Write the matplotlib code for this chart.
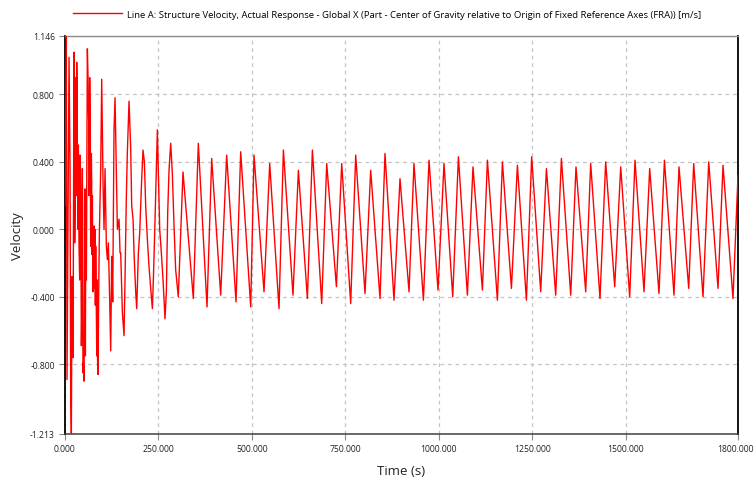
#!/usr/bin/env python3
import matplotlib

matplotlib.use("Agg")
import matplotlib.pyplot as plt
import matplotlib.transforms as mtransforms
import numpy as np

plt.rcParams["font.family"] = ["Open Sans", "DejaVu Sans"]

# early, irregular part of the response (time s, velocity m/s)
early_t = [
    0.0, 3.6, 5.4, 8.1, 10.8, 13.5, 15.2, 17.0, 18.8, 19.5, 20.3, 21.0, 21.5,
    24.2, 25.9, 27.7, 28.6, 29.5, 30.4, 31.3, 32.2, 33.1, 34.8, 35.7, 37.5,
    39.3, 40.2, 42.0, 43.8, 44.6, 45.2, 46.4, 47.3, 48.0, 49.1, 50.9, 51.8,
    52.5, 53.6, 54.5, 55.5, 57.1, 58.9, 59.8, 61.6, 63.4, 64.3, 65.5, 66.0,
    66.9, 67.8, 68.7, 69.6, 70.5, 71.4, 72.3, 73.2, 74.9, 76.0, 77.7, 79.0,
    80.3, 81.2, 82.1, 83.9, 85.0, 86.0, 87.2, 88.4, 90.0, 91.9, 95.5, 98.2,
    101.7, 104.4, 107.1, 110.6, 113.3, 116.0, 119.6, 122.2, 124.9, 127.6,
    131.1, 133.8, 137.4, 140.1, 144.5, 147.2, 149.0, 153.4, 157.9, 160.5,
    164.1, 166.8, 171.3, 175.7, 178.4, 182.0, 184.6, 189.1, 191.8, 196.2,
    199.8, 205.1, 208.7, 212.3, 215.8, 220.3, 224.7, 229.2, 233.7, 236.3,
    239.9, 244.3, 247.0, 249.7, 253.3, 257.7, 262.2, 267.5, 271.1, 274.7,
    278.2, 282.7, 287.1, 291.6, 296.0, 303.0,
]
early_v = [
    0.14, 1.146, -0.89, 0.08, 1.02, 0.36, -0.94, -1.213, -0.28, -0.70, -0.35,
    -0.72, -0.76, 1.05, -0.08, 0.25, 0.73, 0.90, 0.20, 0.99, 0.85, 0.44, 0.00,
    0.50, -0.10, -0.30, 0.44, 0.20, -0.69, -0.55, -0.20, 0.36, 0.10, -0.85,
    -0.79, -0.90, -0.50, -0.20, 0.24, -0.75, 0.00, -0.30, 0.60, 1.07, 0.90,
    0.63, 0.20, 0.30, 0.90, 0.69, 0.55, -0.10, 0.10, 0.45, 0.28, -0.15, 0.20,
    -0.37, -0.25, 0.02, -0.35, 0.00, -0.45, -0.10, -0.51, -0.75, -0.30, -0.80,
    -0.86, -0.40, -0.03, 0.36, 0.89, 0.28, 0.00, 0.36, -0.10, -0.18, -0.08,
    -0.43, -0.72, -0.16, -0.43, 0.59, 0.78, 0.34, 0.00, 0.06, -0.14, -0.14,
    -0.49, -0.63, -0.30, 0.20, 0.46, 0.76, 0.48, 0.14, 0.06, -0.14, -0.37,
    -0.47, -0.14, -0.02, 0.30, 0.47, 0.40, 0.14, -0.06, -0.22, -0.35, -0.47,
    -0.30, -0.02, 0.36, 0.59, 0.34, 0.00, -0.14, -0.30, -0.53, -0.37, 0.10,
    0.35, 0.51, 0.33, 0.02, -0.24, -0.40,
]

# steady oscillation: crests and troughs
peak_t = [
    315.6, 356.6, 392.3, 432.4, 469.9, 505.5, 547.5, 584.1, 624.2, 661.7,
    700.0, 740.1, 777.5, 817.6, 855.9, 896.0, 933.4, 973.6, 1013.7, 1052.2,
    1091.2, 1129.8, 1169.9, 1210.0, 1248.2, 1287.6, 1327.7, 1366.7, 1406.0,
    1446.1, 1486.3, 1524.5, 1563.8, 1603.2, 1642.2, 1681.5, 1721.7, 1759.9,
    1800.0,
]
peak_v = [
    0.34, 0.51, 0.42, 0.44, 0.46, 0.44, 0.39, 0.47, 0.35, 0.47, 0.39, 0.39,
    0.44, 0.35, 0.45, 0.30, 0.39, 0.41, 0.39, 0.43, 0.37, 0.41, 0.40, 0.38,
    0.43, 0.36, 0.42, 0.37, 0.39, 0.40, 0.37, 0.41, 0.36, 0.41, 0.37, 0.39,
    0.40, 0.38, 0.32,
]
trough_t = [
    343.2, 379.8, 416.4, 457.4, 496.7, 532.3, 572.4, 609.8, 648.3, 686.6,
    725.9, 764.1, 802.4, 842.5, 879.9, 920.1, 958.6, 997.6, 1037.0, 1076.2,
    1116.4, 1156.5, 1194.0, 1234.1, 1272.3, 1312.4, 1352.6, 1392.7, 1430.9,
    1470.2, 1510.3, 1548.6, 1588.7, 1628.8, 1668.2, 1706.4, 1746.5, 1786.6,
]
trough_v = [
    -0.41, -0.46, -0.39, -0.43, -0.46, -0.37, -0.47, -0.39, -0.41, -0.44,
    -0.34, -0.44, -0.38, -0.41, -0.42, -0.37, -0.42, -0.36, -0.40, -0.39,
    -0.36, -0.42, -0.35, -0.42, -0.37, -0.39, -0.39, -0.37, -0.41, -0.34,
    -0.40, -0.37, -0.38, -0.39, -0.35, -0.40, -0.35, -0.41,
]

y_ticks = [-1.213, -0.8, -0.4, 0.0, 0.4, 0.8, 1.146]
x_ticks = [0, 250, 500, 750, 1000, 1250, 1500, 1800]

LEGEND_LABEL = (
    "Line A: Structure Velocity, Actual Response - Global X (Part - Center of "
    "Gravity relative to Origin of Fixed Reference Axes (FRA)) [m/s]"
)


def main():
    t = np.array(early_t + peak_t + trough_t)
    v = np.array(early_v + peak_v + trough_v)
    order = np.argsort(t, kind="mergesort")
    t, v = t[order], v[order]

    fig = plt.figure(figsize=(7.55, 4.81), dpi=100)
    ax = fig.add_axes([65 / 755, 1 - 435 / 481, 673 / 755, 398 / 481])

    (line,) = ax.plot(t, v, color="#ff0000", linewidth=1.0, zorder=3)

    ax.set_xlim(0, 1800)
    ax.set_ylim(-1.213, 1.146)
    ax.set_xticks(x_ticks)
    ax.set_xticklabels([f"{x:.3f}" for x in x_ticks])
    ax.set_yticks(y_ticks)
    ax.set_yticklabels([f"{y:.3f}" for y in y_ticks])
    ax.tick_params(axis="both", direction="out", length=4.3, width=0.8,
                   color="#888888", labelsize=6.2, labelcolor="#222222", pad=3)
    ax.grid(True, color="#c4c4c4", linestyle=(0, (3, 3)), linewidth=0.9, zorder=0)

    # the last x label sits right at the figure edge; nudge it in a little
    last = ax.get_xticklabels()[-1]
    last.set_transform(last.get_transform()
                       + mtransforms.ScaledTranslation(-3 / 100, 0, fig.dpi_scale_trans))

    for side in ("left", "right"):
        ax.spines[side].set_color("#000000")
        ax.spines[side].set_linewidth(1.3)
    ax.spines["bottom"].set_color("#404040")
    ax.spines["bottom"].set_linewidth(1.1)
    ax.spines["top"].set_color("#8c8c8c")
    ax.spines["top"].set_linewidth(1.0)

    ax.set_xlabel("Time (s)", fontsize=9.5, color="#222222", labelpad=8)
    ax.set_ylabel("Velocity", fontsize=9.5, color="#222222", labelpad=4)

    fig.legend(
        handles=[line],
        labels=[LEGEND_LABEL],
        loc="center left",
        bbox_to_anchor=(73 / 755, 1 - 15 / 481),
        frameon=False,
        fontsize=6.8,
        handlelength=5.2,
        handletextpad=0.55,
        borderpad=0,
        borderaxespad=0,
    )

    fig.savefig("out.png", dpi=100)
    plt.close(fig)


if __name__ == "__main__":
    main()
